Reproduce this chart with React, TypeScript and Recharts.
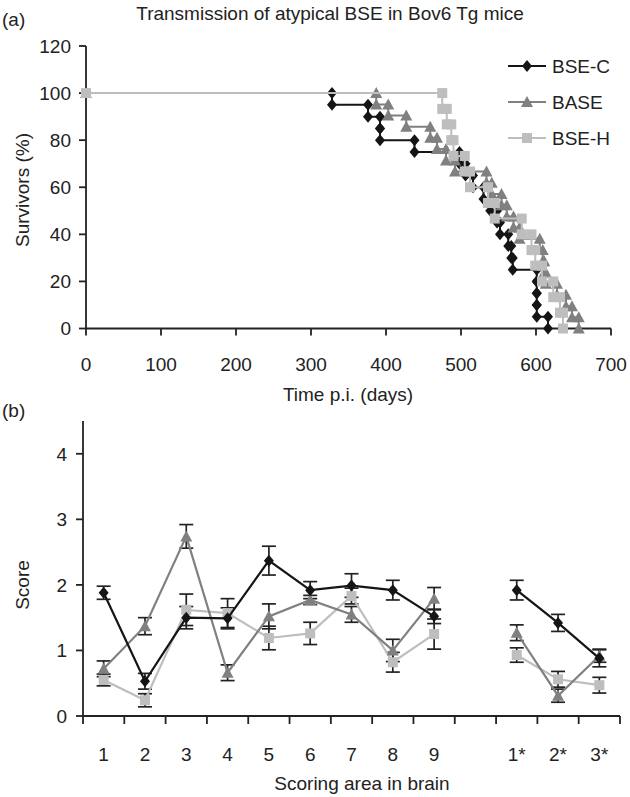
import React from "react";
import { ScatterChart, Scatter, XAxis, YAxis, ErrorBar } from "recharts";

// (a) survival: day of each death and % survivors right after it
const bseCDays = [328, 376, 392, 392, 438, 498, 506, 516, 530, 539, 548, 552, 563, 567, 569, 601, 601, 601, 601, 616];
const bseCSurv = [95, 90, 85, 80, 75, 70, 65, 60, 55, 50, 45, 40, 35, 30, 25, 20, 15, 10, 5, 0];
const baseDays = [387, 403, 427, 459, 468, 480, 492, 534, 541, 554, 561, 570, 578, 605, 609, 611, 613, 628, 640, 648, 657];
const baseSurv = [95.2, 90.5, 85.7, 81.0, 76.2, 71.4, 66.7, 61.9, 57.1, 52.4, 47.6, 42.9, 38.1, 33.3, 28.6, 23.8, 19.0, 14.3, 9.5, 4.8, 0];
const bseHDays = [475, 481, 487, 490, 505, 512, 536, 545, 581, 594, 599, 608, 623, 632, 636];
const bseHSurv = [93.3, 86.7, 80, 73.3, 66.7, 60, 53.3, 46.7, 40, 33.3, 26.7, 20, 13.3, 6.7, 0];
const dayTicks = [0, 100, 200, 300, 400, 500, 600, 700];
const survTicks = [0, 20, 40, 60, 80, 100, 120];

// (b) lesion profile, '' is the gap between the two groups
const areaLabels = ["1", "2", "3", "4", "5", "6", "7", "8", "9", "", "1*", "2*", "3*"];
const bseCScore = [1.88, 0.53, 1.5, 1.49, 2.37, 1.92, 1.99, 1.92, 1.52, null, 1.92, 1.42, 0.88];
const bseCErr = [0.1, 0.12, 0.17, 0.16, 0.22, 0.13, 0.18, 0.15, 0.11, null, 0.15, 0.13, 0.13];
const baseScore = [0.72, 1.37, 2.74, 0.66, 1.52, 1.77, 1.55, 1.0, 1.79, null, 1.27, 0.31, 0.92];
const baseErr = [0.12, 0.13, 0.18, 0.12, 0.19, 0.07, 0.12, 0.17, 0.17, null, 0.12, 0.1, 0.1];
const bseHScore = [0.55, 0.24, 1.62, 1.57, 1.19, 1.26, 1.83, 0.82, 1.25, null, 0.93, 0.56, 0.47];
const bseHErr = [0.09, 0.1, 0.24, 0.22, 0.18, 0.17, 0.12, 0.15, 0.23, null, 0.11, 0.12, 0.12];
const scoreTicks = [0, 1, 2, 3, 4];

const C_COL = "#151515";
const BASE_COL = "#808080";
const H_COL = "#bebebe";
const AXIS = "#222";
const FONT = "'Liberation Sans', Arial, sans-serif";

function steps(days: number[], surv: number[]) {
  const pts = [{ t: 0, s: 100 }];
  let prev = 100;
  days.forEach((d, i) => {
    pts.push({ t: d, s: prev });
    pts.push({ t: d, s: surv[i] });
    prev = surv[i];
  });
  return pts;
}

function segment(scores: (number | null)[], errs: (number | null)[], from: number, to: number) {
  const out: { x: number; y: number; e: number }[] = [];
  for (let i = from; i <= to; i++) {
    if (scores[i] != null) out.push({ x: i + 1, y: scores[i] as number, e: errs[i] as number });
  }
  return out;
}

const Diamond = (p: any) => (
  <path d={`M${p.cx},${p.cy - 6}L${p.cx + 5},${p.cy}L${p.cx},${p.cy + 6}L${p.cx - 5},${p.cy}Z`} fill={p.fill} />
);
const Triangle = (p: any) => (
  <path d={`M${p.cx},${p.cy - 6}L${p.cx + 6},${p.cy + 5}L${p.cx - 6},${p.cy + 5}Z`} fill={p.fill} />
);
const Square = (p: any) => <rect x={p.cx - 5} y={p.cy - 5} width={10} height={10} fill={p.fill} />;

const Txt = ({ x, y, children, rotate = 0, size = 19, anchor = "center" }: any) => (
  <div
    style={{
      position: "absolute",
      left: x,
      top: y,
      transform: `translate(${anchor === "left" ? "0" : "-50%"}, -50%) rotate(${rotate}deg)`,
      fontFamily: FONT,
      fontSize: size,
      color: AXIS,
      whiteSpace: "nowrap",
      lineHeight: 1,
    }}
  >
    {children}
  </div>
);

const legendItems = [
  { name: "BSE-C", color: C_COL, Shape: Diamond },
  { name: "BASE", color: BASE_COL, Shape: Triangle },
  { name: "BSE-H", color: H_COL, Shape: Square },
];

const SurvLegend = () => (
  <svg width={125} height={110} style={{ position: "absolute", left: 505, top: 52 }}>
    {legendItems.map((it, i) => {
      const y = 14 + i * 36;
      return (
        <g key={it.name}>
          <line x1={3} x2={41} y1={y} y2={y} stroke={it.color} strokeWidth={2} />
          <it.Shape cx={22} cy={y} fill={it.color} />
          <text x={47} y={y} dy="0.36em" fontFamily={FONT} fontSize={19} fill={AXIS}>
            {it.name}
          </text>
        </g>
      );
    })}
  </svg>
);

const areaTicks = areaLabels.flatMap((_, i) => [i + 0.5, i + 1]).concat(areaLabels.length + 0.5);

const AreaTick = (props: any) => {
  const { x, y, payload } = props;
  const v = payload.value;
  if (v % 1 !== 0) return <line x1={x} x2={x} y1={y} y2={y + 8} stroke={AXIS} strokeWidth={1.8} />;
  return (
    <text x={x} y={y + 38} textAnchor="middle" dy="0.36em" fontFamily={FONT} fontSize={19} fill={AXIS}>
      {areaLabels[v - 1]}
    </text>
  );
};

const tickStyle = { fill: AXIS, fontSize: 19, fontFamily: FONT };
const axisLine = { stroke: AXIS, strokeWidth: 1.8 };
const tickLine = { stroke: AXIS, strokeWidth: 1.8 };

const groups = [
  { score: bseHScore, err: bseHErr, color: H_COL, Shape: Square },
  { score: baseScore, err: baseErr, color: BASE_COL, Shape: Triangle },
  { score: bseCScore, err: bseCErr, color: C_COL, Shape: Diamond },
];

export default function App() {
  return (
    <div style={{ position: "absolute", left: 0, top: 0, width: 630, height: 797, background: "#fff" }}>
      <div style={{ position: "absolute", left: 0, top: 0 }}>
        <ScatterChart width={630} height={400} margin={{ top: 46, right: 19, bottom: 41.5, left: 26 }}>
          <XAxis
            type="number"
            dataKey="t"
            domain={[0, 700]}
            ticks={dayTicks}
            interval={0}
            height={30}
            tickSize={7}
            tickMargin={22}
            tick={tickStyle}
            axisLine={axisLine}
            tickLine={tickLine}
          />
          <YAxis
            type="number"
            dataKey="s"
            domain={[0, 120]}
            ticks={survTicks}
            interval={0}
            width={60}
            tickSize={7}
            tickMargin={8}
            tick={tickStyle}
            axisLine={axisLine}
            tickLine={tickLine}
          />
          <Scatter
            data={steps(bseCDays, bseCSurv)}
            fill={C_COL}
            line={{ stroke: C_COL, strokeWidth: 2 }}
            shape={Diamond}
            isAnimationActive={false}
          />
          <Scatter
            data={steps(baseDays, baseSurv)}
            fill={BASE_COL}
            line={{ stroke: BASE_COL, strokeWidth: 2 }}
            shape={Triangle}
            isAnimationActive={false}
          />
          <Scatter
            data={steps(bseHDays, bseHSurv)}
            fill={H_COL}
            line={{ stroke: H_COL, strokeWidth: 2 }}
            shape={Square}
            isAnimationActive={false}
          />
        </ScatterChart>
        <SurvLegend />
      </div>

      <div style={{ position: "absolute", left: 0, top: 400 }}>
        <ScatterChart width={630} height={397} margin={{ top: 21, right: 10, bottom: 51, left: 33 }}>
          <XAxis
            type="number"
            dataKey="x"
            domain={[0.5, areaLabels.length + 0.5]}
            ticks={areaTicks}
            interval={0}
            height={30}
            tickSize={0}
            tickMargin={0}
            tickLine={false}
            tick={AreaTick}
            axisLine={axisLine}
          />
          <YAxis
            type="number"
            dataKey="y"
            domain={[0, 4.5]}
            ticks={scoreTicks}
            interval={0}
            width={50}
            tickSize={7}
            tickMargin={9}
            tick={tickStyle}
            axisLine={axisLine}
            tickLine={tickLine}
          />
          {groups.flatMap((g, gi) =>
            [
              [0, 8],
              [10, 12],
            ].map(([a, b]) => (
              <Scatter
                key={`${gi}-${a}`}
                data={segment(g.score, g.err, a, b)}
                fill={g.color}
                line={{ stroke: g.color, strokeWidth: 2.2 }}
                shape={g.Shape}
                isAnimationActive={false}
              >
                <ErrorBar dataKey="e" direction="y" width={7} stroke={AXIS} strokeWidth={1.7} />
              </Scatter>
            ))
          )}
        </ScatterChart>
      </div>

      <Txt x={2} y={19} anchor="left">(a)</Txt>
      <Txt x={330} y={13}>Transmission of atypical BSE in Bov6 Tg mice</Txt>
      <Txt x={22} y={190} rotate={-90}>Survivors (%)</Txt>
      <Txt x={348} y={394}>Time p.i. (days)</Txt>
      <Txt x={2} y={410} anchor="left">(b)</Txt>
      <Txt x={22} y={585} rotate={-90}>Score</Txt>
      <Txt x={362} y={783}>Scoring area in brain</Txt>
    </div>
  );
}
